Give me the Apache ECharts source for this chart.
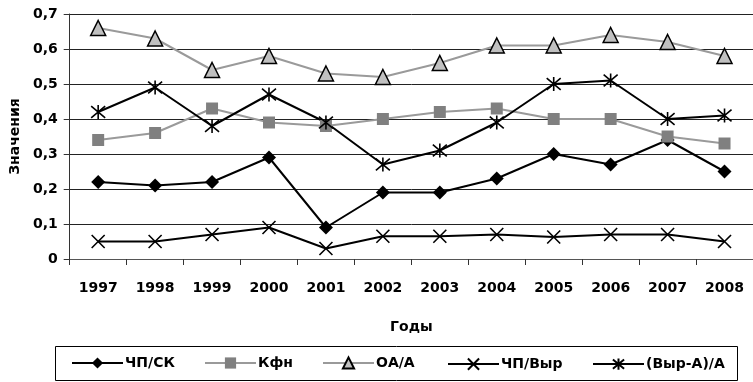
<!DOCTYPE html>
<html>
<head>
<meta charset="utf-8">
<script src="https://cdn.jsdelivr.net/npm/echarts@6/dist/echarts.min.js"></script>
<style>
  html, body { margin: 0; padding: 0; background: #fff; }
  #chart { width: 753px; height: 382px; }
</style>
</head>
<body>
<div id="chart"></div>
<script>
// Годы
const years = ['1997','1998','1999','2000','2001','2002','2003','2004','2005','2006','2007','2008'];

// Показатели по годам
const chpSk   = [0.22, 0.21, 0.22, 0.29, 0.09, 0.19, 0.19, 0.23, 0.30, 0.27, 0.34, 0.25];
const kfn     = [0.34, 0.36, 0.43, 0.39, 0.38, 0.40, 0.42, 0.43, 0.40, 0.40, 0.35, 0.33];
const oaA     = [0.66, 0.63, 0.54, 0.58, 0.53, 0.52, 0.56, 0.61, 0.61, 0.64, 0.62, 0.58];
const chpVyr  = [0.05, 0.05, 0.07, 0.09, 0.03, 0.065, 0.065, 0.07, 0.063, 0.07, 0.07, 0.05];
const vyrAA   = [0.42, 0.49, 0.38, 0.47, 0.39, 0.27, 0.31, 0.39, 0.50, 0.51, 0.40, 0.41];

const seriesNames = ['ЧП/СК', 'Кфн', 'ОА/А', 'ЧП/Выр', '(Выр-А)/А'];

// Подписи делений оси значений
const yTickLabels = ['0', '0,1', '0,2', '0,3', '0,4', '0,5', '0,6', '0,7'];

const FONT = 'DejaVu Sans';
const FS = 14;
const crossPath = 'path://M0 0L10 10M10 0L0 10';
const starPath = 'path://M0 0L10 10M10 0L0 10M5 -1L5 11';

const chart = echarts.init(document.getElementById('chart'), null, { renderer: 'canvas' });

// Каждый элемент легенды ставится отдельно
const legendLefts = [71, 204, 322, 447, 592];
const legends = seriesNames.map((n, i) => ({
  data: [n],
  left: legendLefts[i],
  top: 356,
  itemWidth: 51,
  itemHeight: 14,
  itemGap: 0,
  padding: 0,
  selectedMode: false,
  textStyle: { fontFamily: FONT, fontWeight: 'bold', fontSize: FS, color: '#000', padding: [0, 0, 0, -3] }
}));

chart.setOption({
  animation: false,
  backgroundColor: '#fff',
  grid: { left: 69, right: 0, top: 14, bottom: 123 },
  graphic: [{
    type: 'rect',
    shape: { x: 55.5, y: 346.5, width: 682, height: 34 },
    style: { fill: 'none', stroke: '#000', lineWidth: 1 }
  }],
  legend: legends,
  xAxis: {
    type: 'category',
    data: years,
    boundaryGap: true,
    name: 'Годы',
    nameLocation: 'middle',
    nameGap: 61,
    nameTextStyle: { fontFamily: FONT, fontWeight: 'bold', fontSize: FS, color: '#000' },
    axisLine: { lineStyle: { color: '#555', width: 1 } },
    axisTick: { show: true, length: 6, lineStyle: { color: '#333' } },
    axisLabel: { margin: 22, fontFamily: FONT, fontWeight: 'bold', fontSize: FS, color: '#000' },
    splitLine: { show: false }
  },
  yAxis: {
    type: 'value',
    min: 0,
    max: 0.7,
    interval: 0.1,
    name: 'Значения',
    nameLocation: 'middle',
    nameGap: 45,
    nameTextStyle: { fontFamily: FONT, fontWeight: 'bold', fontSize: FS, color: '#000' },
    axisLine: { show: true, lineStyle: { color: '#333', width: 1 } },
    axisTick: { show: true, length: 6, lineStyle: { color: '#333' } },
    axisLabel: {
      margin: 12,
      fontFamily: FONT, fontWeight: 'bold', fontSize: FS, color: '#000',
      formatter: v => yTickLabels[Math.round(v * 10)]
    },
    splitLine: { show: true, lineStyle: { color: '#222', width: 1 } }
  },
  series: [
    {
      name: seriesNames[0], type: 'line', data: chpSk,
      symbol: 'diamond', symbolSize: 14,
      lineStyle: { color: '#000', width: 2 },
      itemStyle: { color: '#000' }
    },
    {
      name: seriesNames[1], type: 'line', data: kfn,
      symbol: 'rect', symbolSize: 12,
      lineStyle: { color: '#9a9a9a', width: 2 },
      itemStyle: { color: '#808080' }
    },
    {
      name: seriesNames[2], type: 'line', data: oaA,
      symbol: 'triangle', symbolSize: 15,
      lineStyle: { color: '#9a9a9a', width: 2 },
      itemStyle: { color: '#c0c0c0', borderColor: '#000', borderWidth: 1.5 }
    },
    {
      name: seriesNames[3], type: 'line', data: chpVyr,
      symbol: crossPath, symbolSize: 13,
      lineStyle: { color: '#000', width: 2 },
      itemStyle: { color: 'none', borderColor: '#000', borderWidth: 1.6 }
    },
    {
      name: seriesNames[4], type: 'line', data: vyrAA,
      symbol: starPath, symbolSize: 14,
      lineStyle: { color: '#000', width: 2 },
      itemStyle: { color: 'none', borderColor: '#000', borderWidth: 1.6 }
    }
  ]
});
</script>
</body>
</html>
